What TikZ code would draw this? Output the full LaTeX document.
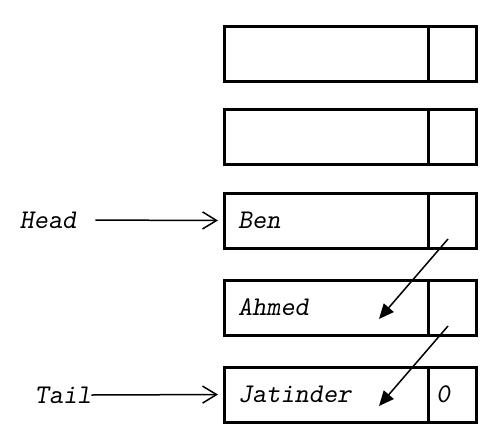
\documentclass[tikz,border=0pt]{standalone}
\usepackage{fontspec}
\usetikzlibrary{arrows.meta,calc}
\begin{document}
\begin{tikzpicture}[x=1pt,y=-1pt,
  lbl/.style={font=\fontsize{27}{30}\selectfont\ttfamily\slshape},
  databox/.style={draw,line width=3pt,rectangle,anchor=north west,outer sep=0pt,
    minimum width=204pt,minimum height=55pt,inner xsep=14pt,inner ysep=0pt,
    text width=176pt,align=left,lbl},
  ptrbox/.style={draw,line width=3pt,rectangle,anchor=north west,outer sep=0pt,
    minimum width=48pt,minimum height=55pt,inner xsep=8pt,inner ysep=0pt,
    text width=32pt,align=left,lbl},
  extptr/.style={line width=1.5pt,-{Straight Barb[length=14pt,width=17pt,line width=1.5pt]}},
  nextptr/.style={line width=1.5pt,-{Triangle[length=15pt,width=13pt]}},
  varlbl/.style={lbl,inner sep=0pt,outer sep=0pt}]
\useasboundingbox (0,0) rectangle (500,442);
\fill[white] (0,0) rectangle (500,442);
\node[databox] (b1) at (224,26) {};
\node[ptrbox] (p1) at (428,26) {};
\node[databox] (b2) at (224,109) {};
\node[ptrbox] (p2) at (428,109) {};
\node[databox] (b3) at (224,193) {Ben};
\node[ptrbox] (p3) at (428,193) {};
\node[databox] (b4) at (224,280) {Ahmed};
\node[ptrbox] (p4) at (428,280) {};
\node[databox] (b5) at (224,367) {Jatinder};
\node[ptrbox] (p5) at (428,367) {0};
\node[varlbl] (head) at (48,220) {Head};
\node[varlbl] (tail) at (63,395) {Tail};
\draw[extptr,shorten <=19pt,shorten >=6pt] (head.east) -- (b3.west);
\draw[extptr,shorten >=6pt] (tail.east) -- (b5.west);
\coordinate (s3) at ($(p3.south)+(-4,-9)$);
\coordinate (e4) at ($(b4.center)+(53,11.5)$);
\coordinate (s4) at ($(p4.south)+(-4,-9)$);
\coordinate (e5) at ($(b5.center)+(53,11.5)$);
\draw[nextptr] (s3) -- (e4);
\draw[nextptr] (s4) -- (e5);
\end{tikzpicture}
\end{document}
